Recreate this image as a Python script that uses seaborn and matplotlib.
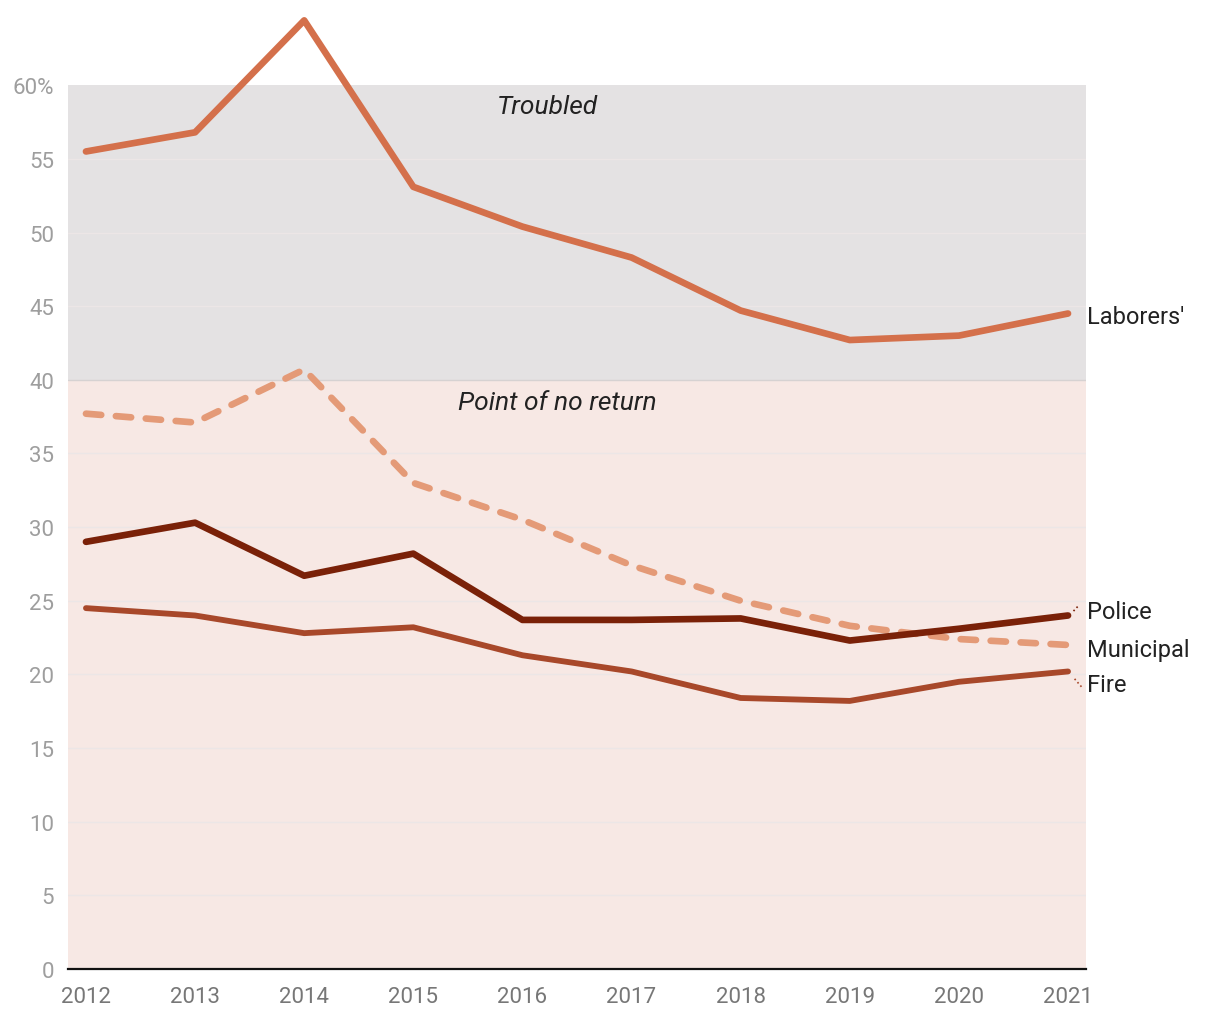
import matplotlib
matplotlib.use("Agg")
import matplotlib.pyplot as plt
import seaborn as sns
import pandas as pd

years = [2012, 2013, 2014, 2015, 2016, 2017, 2018, 2019, 2020, 2021]
laborers = [55.5, 56.8, 64.4, 53.1, 50.4, 48.3, 44.7, 42.7, 43.0, 44.5]
municipal = [37.7, 37.1, 40.7, 33.0, 30.5, 27.4, 25.0, 23.3, 22.4, 22.0]
police = [29.0, 30.3, 26.7, 28.2, 23.7, 23.7, 23.8, 22.3, 23.1, 24.0]
fire = [24.5, 24.0, 22.8, 23.2, 21.3, 20.2, 18.4, 18.2, 19.5, 20.2]
series_names = ["Laborers'", "Municipal", "Police", "Fire"]
y_ticks = [0, 5, 10, 15, 20, 25, 30, 35, 40, 45, 50, 55, 60]
y_tick_labels = ["0", "5", "10", "15", "20", "25", "30", "35", "40", "45", "50", "55", "60%"]
zones = [("Point of no return", 0, 40), ("Troubled", 40, 60)]

sns.set_theme(style="white")
plt.rcParams['font.family'] = ['Roboto', 'DejaVu Sans']

df = pd.DataFrame({
    "year": years * 4,
    "value": laborers + municipal + police + fire,
    "fund": sum([[n] * len(years) for n in series_names], []),
})

colors = {"Laborers'": "#d4704b", "Municipal": "#e49a77", "Police": "#7a2108", "Fire": "#a8482a"}
widths = {"Laborers'": 4.8, "Municipal": 4.8, "Police": 4.8, "Fire": 4.2}

fig = plt.figure(figsize=(12.2, 10.2), dpi=100)
ax = fig.add_axes([0.0557, 0.049, 0.8345, 0.9387])

zone_colors = {"Point of no return": "#f7e8e4", "Troubled": "#e4e2e3"}
for name, lo, hi in zones:
    ax.axhspan(lo, hi, color=zone_colors[name], zorder=0, lw=0)
for t in y_ticks[1:-1]:
    c = "#d6d2d2" if t == 40 else "#ece6e6"
    ax.axhline(t, color=c, lw=1.0, zorder=0.5)

for n in series_names:
    sub = df[df["fund"] == n]
    sns.lineplot(data=sub, x="year", y="value", ax=ax, color=colors[n],
                 lw=widths[n], zorder=3, clip_on=False, legend=False,
                 linestyle=(0, (2.3, 2.2)) if n == "Municipal" else "-",
                 solid_capstyle="round", dash_capstyle="round")

ax.set_xlim(2011.835, 2021.165)
ax.set_ylim(0, 65)
ax.set_yticks(y_ticks)
ax.set_yticklabels(y_tick_labels)
ax.set_xticks(years)
ax.set_xticklabels([str(y) for y in years])
ax.tick_params(axis="y", length=0, pad=10, labelsize=16, labelcolor="#9e9e9e")
ax.tick_params(axis="x", length=0, pad=12, labelsize=16, labelcolor="#777777")
ax.set_xlabel("")
ax.set_ylabel("")
for s in ["top", "right", "left"]:
    ax.spines[s].set_visible(False)
ax.spines["bottom"].set_color("#111111")
ax.spines["bottom"].set_linewidth(1.6)
ax.set_facecolor("none")

ax.text(2016.23, 58.6, "Troubled", ha="center", va="center", fontsize=19,
        style="italic", color="#222222")
ax.text(2016.32, 38.5, "Point of no return", ha="center", va="center", fontsize=19,
        style="italic", color="#222222")

label_y = {"Laborers'": 44.3, "Police": 24.3, "Municipal": 21.7, "Fire": 19.3}
for n in series_names:
    ax.text(2021.17, label_y[n], n, ha="left", va="center", fontsize=17,
            color="#222222", clip_on=False)
ax.plot([2021.05, 2021.1], [24.3, 24.7], color=colors["Police"], lw=1.2,
        ls=":", clip_on=False, zorder=3)
ax.plot([2021.06, 2021.13], [19.7, 19.1], color=colors["Fire"], lw=1.2,
        ls=":", clip_on=False, zorder=3)

fig.savefig("out.png", dpi=100)
